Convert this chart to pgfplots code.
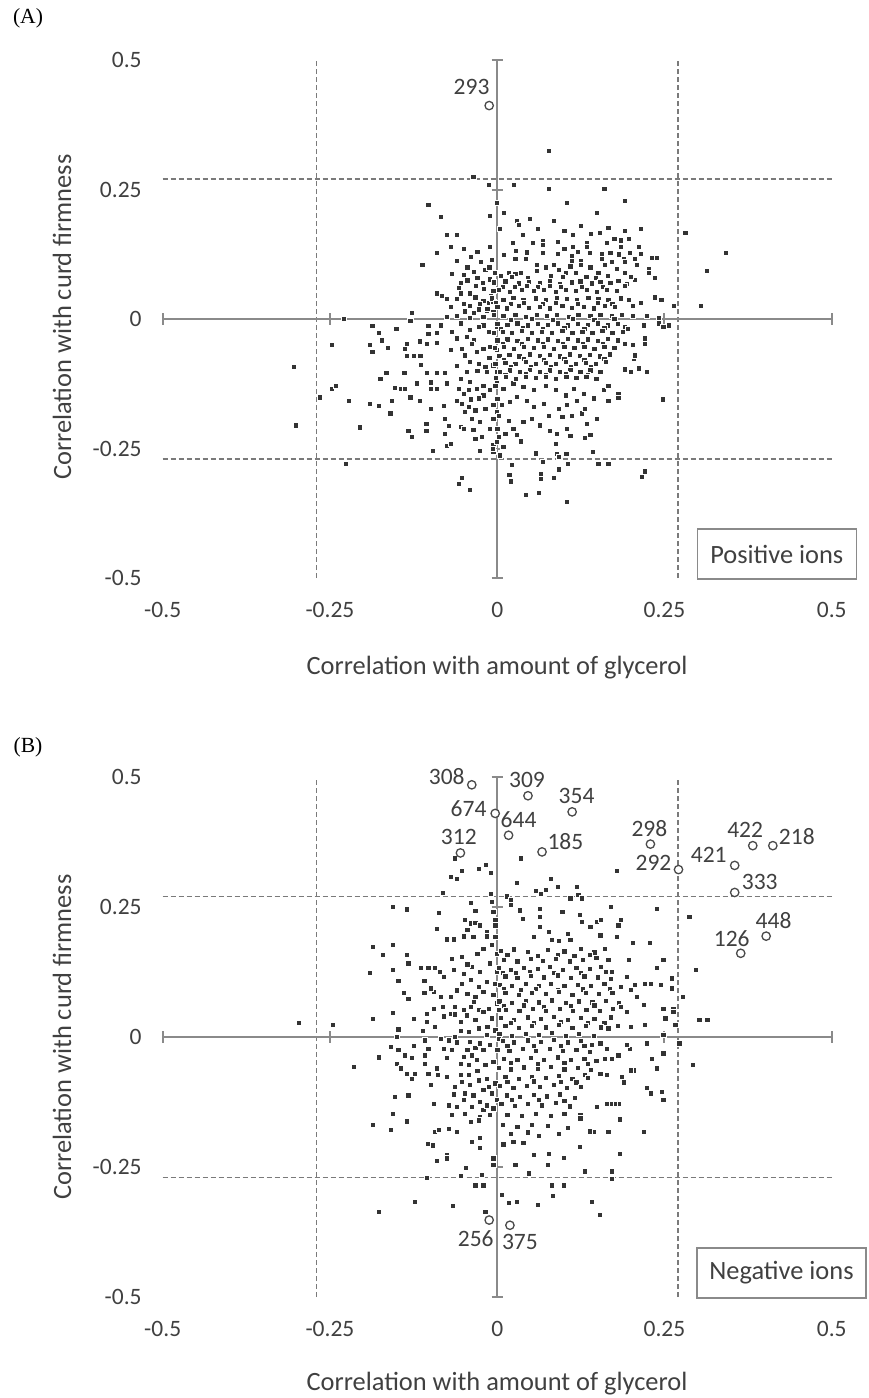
\documentclass[border=0pt]{standalone}
\usepackage{fontspec}
\setmainfont{Carlito}
\newfontfamily\seriffont{Liberation Serif}
\usepackage{pgfplots}
\pgfplotsset{compat=1.18}
\definecolor{axgray}{HTML}{8A8A8A}
\definecolor{dashgray}{HTML}{7A7A7A}
\definecolor{dotc}{HTML}{333333}
\definecolor{txt}{HTML}{404040}
\definecolor{circc}{HTML}{4A4A4A}
\tikzset{
  axl/.style={draw=axgray, line width=1pt},
  dsh/.style={draw=dashgray, line width=0.7pt, dash pattern=on 2.5pt off 1.5pt},
  lab/.style={font=\fontsize{11.75}{14}\selectfont, text=txt, inner sep=0pt},
  ttl/.style={font=\fontsize{13.2}{16}\selectfont, text=txt, inner sep=0pt},
}
\pgfplotsset{
  panel/.style={
    scale only axis, width=334.5pt,
    xmin=-0.5, xmax=0.5, ymin=-0.5, ymax=0.5,
    axis line style={draw=none}, tick style={draw=none}, major tick length=0pt,
    xtick={-0.5,-0.25,0,0.25,0.5}, xticklabels={-0.5,-0.25,0,0.25,0.5},
    ytick={-0.5,-0.25,0,0.25,0.5}, yticklabels={-0.5,-0.25,0,0.25,0.5},
    ticklabel style={font=\fontsize{11.75}{14}\selectfont, text=txt},
    xticklabel style={anchor=center, inner sep=0pt, yshift=-16pt},
    yticklabel style={anchor=east, inner sep=0pt, xshift=-10.35pt},
    clip=false, anchor=south west,
  },
  dots/.style={only marks, mark=square*, mark size=1.3pt,
    mark options={fill=dotc, draw=white, line width=0.2pt}},
  circs/.style={only marks, mark=*, mark size=2.1pt,
    mark options={fill=white, draw=circc, line width=0.65pt}},
}
\newcommand{\crossframe}{%
  \draw[dsh] (axis cs:-0.27,-0.5) -- (axis cs:-0.27,0.5);
  \draw[dsh] (axis cs:0.27,-0.5) -- (axis cs:0.27,0.5);
  \draw[dsh] (axis cs:-0.5,0.27) -- (axis cs:0.5,0.27);
  \draw[dsh] (axis cs:-0.5,-0.27) -- (axis cs:0.5,-0.27);
  \draw[axl] (axis cs:-0.5,0) -- (axis cs:0.5,0);
  \draw[axl] (axis cs:0,-0.5) -- (axis cs:0,0.5);
  \pgfplotsinvokeforeach{-0.5,-0.25,0.25,0.5}{
    \draw[axl] ([yshift=-2.8pt]axis cs:##1,0) -- ([yshift=2.8pt]axis cs:##1,0);
    \draw[axl] ([xshift=-2.8pt]axis cs:0,##1) -- ([xshift=2.8pt]axis cs:0,##1);
  }%
}
\begin{document}
\begin{tikzpicture}
\useasboundingbox (0,0) rectangle (434pt,-699pt);
% ---------------- Panel A ----------------
\begin{axis}[panel, height=259pt, at={(81.35pt,-289pt)}]
\crossframe
\addplot[dots] coordinates {
(-0.036,0.274) (-0.013,0.259) (-0.001,0.224) (-0.103,0.220) (-0.085,0.197) (-0.011,0.200) (-0.076,0.163) (-0.061,0.163) (-0.070,0.139) (-0.091,0.128) (-0.011,0.139) (-0.008,0.115) (-0.112,0.105) (-0.035,0.092) (-0.011,0.077) (-0.055,0.070) (-0.032,0.065) (-0.020,0.058) (-0.006,0.055) (-0.091,0.050) (-0.083,0.045) (-0.076,0.039) (-0.061,0.039) (-0.055,0.050) (-0.041,0.050) (-0.021,0.036) (-0.026,0.029) (-0.013,0.032) (-0.006,0.033) (-0.070,0.023) (-0.041,0.026) (-0.028,0.019) (-0.016,0.016) (-0.006,0.014) (-0.128,0.012) (-0.061,0.007) (-0.041,0.003) (-0.021,0.005) (-0.230,0.000) (-0.130,-0.003)
(-0.050,0.085) (-0.045,0.100) (-0.025,0.110) (-0.018,0.095) (-0.004,0.090) (-0.060,0.112) (-0.040,0.120) (-0.030,0.080) (-0.050,0.030) (-0.035,0.012) (-0.010,0.045) (-0.048,0.015) (-0.022,0.070)
(-0.015,0.020) (-0.033,0.042) (-0.058,0.060) (-0.045,0.075) (-0.068,0.088) (-0.012,0.100) (-0.030,0.130) (-0.050,0.135) (-0.075,0.005) (-0.085,-0.012) (-0.055,-0.008) (-0.035,-0.040) (-0.060,-0.090) (-0.070,-0.060) (-0.030,-0.100) (-0.055,-0.115) (-0.012,-0.075) (-0.040,-0.155)
(-0.187,-0.013) (-0.177,-0.026) (-0.151,-0.018) (-0.103,-0.013) (-0.247,-0.049) (-0.190,-0.049) (-0.187,-0.063) (-0.173,-0.041) (-0.164,-0.056) (-0.135,-0.047) (-0.138,-0.057) (-0.116,-0.043) (-0.105,-0.047) (-0.091,-0.045) (-0.103,-0.028) (-0.090,-0.026) (-0.135,-0.071) (-0.125,-0.071) (-0.115,-0.071)
(-0.304,-0.092) (-0.175,-0.115) (-0.166,-0.103) (-0.139,-0.103) (-0.114,-0.088) (-0.105,-0.103) (-0.091,-0.103) (-0.079,-0.103)
(-0.247,-0.135) (-0.242,-0.129) (-0.265,-0.151) (-0.222,-0.158) (-0.190,-0.163) (-0.177,-0.167) (-0.160,-0.182) (-0.158,-0.158) (-0.153,-0.133) (-0.144,-0.135) (-0.138,-0.135) (-0.130,-0.151) (-0.120,-0.124) (-0.116,-0.158) (-0.100,-0.122) (-0.100,-0.134) (-0.091,-0.134) (-0.075,-0.124)
(-0.301,-0.205) (-0.205,-0.209) (-0.133,-0.216) (-0.128,-0.227) (-0.106,-0.216) (-0.106,-0.202) (-0.100,-0.173) (-0.080,-0.168) (-0.079,-0.192) (-0.073,-0.206) (-0.055,-0.208) (-0.079,-0.221) (-0.075,-0.244) (-0.070,-0.240) (-0.096,-0.255) (-0.026,-0.255) (-0.006,-0.256) (-0.226,-0.279) (-0.053,-0.307) (-0.058,-0.318) (-0.041,-0.329)
(-0.060,-0.037) (-0.053,-0.057) (-0.046,-0.034) (-0.038,-0.047) (-0.031,-0.063) (-0.021,-0.057) (-0.011,-0.054) (-0.001,-0.060) (-0.048,-0.070) (-0.041,-0.082) (-0.028,-0.086) (-0.018,-0.092) (-0.006,-0.089) (-0.046,-0.102) (-0.016,-0.102) (-0.001,-0.102) (-0.058,-0.134) (-0.050,-0.144) (-0.043,-0.137) (-0.031,-0.134) (-0.021,-0.147) (-0.028,-0.153) (-0.060,-0.157) (-0.053,-0.163) (-0.043,-0.169) (-0.033,-0.176) (-0.018,-0.173) (-0.006,-0.166) (-0.001,-0.153) (-0.038,-0.192) (-0.026,-0.198) (-0.006,-0.192) (-0.033,-0.231) (-0.023,-0.227) (0.002,-0.227) (-0.006,-0.243) (-0.050,-0.211) (-0.036,-0.214) (-0.011,-0.211) (-0.021,-0.012) (-0.041,-0.021) (-0.013,-0.024) (-0.028,-0.015) (-0.001,-0.015) (-0.068,-0.024) (-0.041,-0.121) (-0.021,-0.128) (-0.001,-0.121) (-0.011,-0.137) (-0.048,-0.179) (-0.001,-0.179)
(0.077,0.325) (0.025,0.259) (0.077,0.251) (0.160,0.251) (0.104,0.224) (0.190,0.228) (0.010,0.205) (0.149,0.205) (0.049,0.193) (0.029,0.189) (0.032,0.182) (0.004,0.174) (0.166,0.177) (0.153,0.166) (0.215,0.174) (0.038,0.162) (0.113,0.162) (0.281,0.166) (0.023,0.147) (0.053,0.147) (0.068,0.151) (0.068,0.143) (0.113,0.139) (0.134,0.147) (0.134,0.139) (0.164,0.147) (0.175,0.155) (0.184,0.152) (0.196,0.155) (0.184,0.139) (0.211,0.139) (0.028,0.132) (0.044,0.129) (0.068,0.128) (0.138,0.128) (0.156,0.125) (0.169,0.128) (0.341,0.128) (0.027,0.116) (0.042,0.117) (0.111,0.122) (0.111,0.113) (0.125,0.113) (0.156,0.116) (0.189,0.116) (0.206,0.116) (0.231,0.119) (0.238,0.119) (0.313,0.093)
(0.090,0.150) (0.100,0.170) (0.125,0.180) (0.140,0.165) (0.190,0.170) (0.060,0.175) (0.085,0.190) (0.010,0.124) (0.090,0.126) (0.100,0.135) (0.120,0.130) (0.182,0.125) (0.198,0.128) (0.215,0.126)
(0.017,0.090) (0.027,0.087) (0.035,0.090) (0.059,0.105) (0.059,0.094) (0.072,0.100) (0.084,0.105) (0.092,0.095) (0.102,0.090) (0.109,0.102) (0.117,0.090) (0.125,0.105) (0.139,0.100) (0.151,0.090) (0.161,0.105) (0.171,0.110) (0.179,0.097) (0.191,0.110) (0.191,0.090) (0.209,0.105) (0.226,0.097) (0.226,0.089) (0.236,0.079) (0.206,0.076)
(0.005,0.084) (0.022,0.082) (0.045,0.080) (0.080,0.083) (0.098,0.081) (0.133,0.082) (0.147,0.080) (0.165,0.084) (0.200,0.082)
(0.236,0.042) (0.245,0.038) (0.264,0.026) (0.304,0.026) (0.203,0.026) (0.203,0.007) (0.224,0.007) (0.241,0.003)
(-0.005,0.071) (0.012,0.073) (0.032,0.069) (0.047,0.072) (0.064,0.070) (0.079,0.074) (0.094,0.068) (0.111,0.071) (0.124,0.073) (0.141,0.069) (0.154,0.072) (0.169,0.070) (0.181,0.074) (0.194,0.068)
(0.008,0.063) (0.026,0.062) (0.044,0.064) (0.060,0.062) (0.078,0.064) (0.095,0.062) (0.126,0.063) (0.158,0.062) (0.190,0.064)
(0.002,0.056) (0.019,0.053) (0.037,0.057) (0.054,0.054) (0.069,0.056) (0.087,0.053) (0.102,0.057) (0.117,0.054) (0.134,0.056) (0.149,0.053) (0.164,0.057) (0.179,0.055)
(-0.008,0.040) (0.009,0.038) (0.024,0.041) (0.039,0.038) (0.057,0.040) (0.072,0.037) (0.089,0.041) (0.104,0.039) (0.119,0.037) (0.136,0.041) (0.151,0.039) (0.166,0.038) (0.184,0.040) (0.196,0.037)
(-0.002,0.031) (0.020,0.030) (0.040,0.032) (0.068,0.030) (0.088,0.032) (0.120,0.030) (0.150,0.032) (0.172,0.030) (0.215,0.031)
(0.000,0.024) (0.014,0.021) (0.032,0.025) (0.047,0.022) (0.064,0.024) (0.079,0.021) (0.097,0.025) (0.111,0.022) (0.129,0.024) (0.144,0.021) (0.161,0.025) (0.176,0.023)
(-0.005,0.008) (0.009,0.006) (0.027,0.009) (0.042,0.005) (0.059,0.008) (0.074,0.006) (0.089,0.009) (0.107,0.005) (0.121,0.008) (0.139,0.006) (0.154,0.009) (0.171,0.006) (0.186,0.008)
(0.020,-0.001) (0.052,0.001) (0.083,-0.001) (0.113,0.001) (0.145,-0.001) (0.175,0.001)
(0.247,-0.155) (0.224,-0.102) (0.211,-0.095) (0.199,-0.102) (0.190,-0.097) (0.204,-0.076) (0.206,-0.070) (0.221,-0.047) (0.221,-0.037) (0.203,-0.050) (0.191,-0.015) (0.219,-0.012) (0.241,-0.008) (0.248,-0.015) (0.256,-0.012)
(0.181,-0.144) (0.181,-0.152) (0.166,-0.158) (0.149,-0.193) (0.143,-0.256) (0.166,-0.279) (0.151,-0.279) (0.139,-0.224) (0.131,-0.229) (0.221,-0.294) (0.216,-0.305)
(0.105,-0.279) (0.092,-0.290) (0.084,-0.307) (0.068,-0.276) (0.065,-0.298) (0.065,-0.309) (0.057,-0.259) (0.043,-0.339) (0.062,-0.336) (0.104,-0.352) (0.022,-0.282) (0.018,-0.301) (0.020,-0.313) (0.035,-0.236) (0.089,-0.260) (0.103,-0.260) (0.092,-0.266)
(0.004,-0.263) (0.009,-0.247) (-0.001,-0.237) (-0.007,-0.250)
(0.134,-0.202) (0.111,-0.186) (0.097,-0.189) (0.126,-0.182) (0.104,-0.211) (0.089,-0.221) (0.109,-0.226) (0.087,-0.240)
(0.000,-0.154) (0.007,-0.166) (0.019,-0.160) (0.029,-0.150) (0.044,-0.157) (0.054,-0.170) (0.069,-0.163) (0.077,-0.186) (0.092,-0.173) (0.104,-0.166) (0.119,-0.157) (0.131,-0.173) (0.002,-0.186) (0.017,-0.196) (0.024,-0.212) (0.039,-0.199) (0.052,-0.192) (0.064,-0.205) (0.079,-0.215) (0.000,-0.211) (0.012,-0.221) (0.029,-0.224) (-0.003,-0.128) (0.009,-0.134) (0.024,-0.124) (0.039,-0.131) (0.054,-0.137) (0.072,-0.128) (0.087,-0.137) (0.102,-0.147) (0.114,-0.134) (0.129,-0.144) (0.144,-0.153) (0.159,-0.137) (0.166,-0.128)
(0.000,-0.009) (0.015,-0.011) (0.030,-0.008) (0.045,-0.012) (0.060,-0.009) (0.075,-0.011) (0.090,-0.008) (0.105,-0.012) (0.120,-0.009) (0.135,-0.011) (0.150,-0.008) (0.165,-0.012) (0.180,-0.009)
(0.005,-0.018) (0.038,-0.017) (0.068,-0.018) (0.100,-0.017) (0.130,-0.018) (0.160,-0.017) (0.195,-0.018)
(-0.005,-0.026) (0.008,-0.024) (0.022,-0.027) (0.037,-0.023) (0.052,-0.026) (0.067,-0.024) (0.082,-0.027) (0.097,-0.023) (0.112,-0.026) (0.127,-0.024) (0.142,-0.027) (0.157,-0.023) (0.172,-0.026) (0.187,-0.024)
(0.000,-0.041) (0.015,-0.039) (0.030,-0.042) (0.045,-0.038) (0.060,-0.041) (0.075,-0.039) (0.090,-0.042) (0.105,-0.038) (0.120,-0.041) (0.135,-0.039) (0.150,-0.042) (0.165,-0.038) (0.180,-0.041)
(0.008,-0.048) (0.037,-0.047) (0.068,-0.048) (0.098,-0.047) (0.128,-0.048) (0.158,-0.047) (0.190,-0.048)
(-0.004,-0.056) (0.010,-0.054) (0.025,-0.057) (0.040,-0.053) (0.055,-0.056) (0.070,-0.054) (0.085,-0.057) (0.100,-0.053) (0.115,-0.056) (0.130,-0.054) (0.145,-0.057) (0.160,-0.053) (0.175,-0.056)
(0.003,-0.071) (0.018,-0.069) (0.033,-0.072) (0.048,-0.068) (0.063,-0.071) (0.078,-0.069) (0.093,-0.072) (0.108,-0.068) (0.123,-0.071) (0.138,-0.069) (0.153,-0.072) (0.168,-0.068)
(0.010,-0.078) (0.040,-0.077) (0.070,-0.078) (0.100,-0.077) (0.130,-0.078) (0.160,-0.077)
(-0.003,-0.086) (0.012,-0.084) (0.027,-0.087) (0.042,-0.083) (0.057,-0.086) (0.072,-0.084) (0.087,-0.087) (0.102,-0.083) (0.117,-0.086) (0.132,-0.084) (0.147,-0.087) (0.162,-0.083)
(0.020,-0.093) (0.050,-0.092) (0.080,-0.093) (0.110,-0.092) (0.140,-0.093)
(0.004,-0.101) (0.019,-0.099) (0.034,-0.102) (0.049,-0.098) (0.064,-0.101) (0.079,-0.099) (0.094,-0.102) (0.109,-0.098) (0.124,-0.101) (0.139,-0.099) (0.154,-0.102)
(0.012,-0.107) (0.042,-0.106) (0.072,-0.107) (0.102,-0.106) (0.135,-0.107)
(-0.002,-0.114) (0.013,-0.112) (0.028,-0.115) (0.043,-0.111) (0.058,-0.114) (0.073,-0.112) (0.088,-0.115) (0.103,-0.111) (0.118,-0.114) (0.133,-0.112) (0.148,-0.115)
};
\addplot[circs] coordinates {(-0.012,0.412)};
\node[lab] at ([xshift=-8.8pt,yshift=9.2pt]axis cs:-0.012,0.412) {293};
\end{axis}
% ---------------- Panel B ----------------
\begin{axis}[panel, height=260pt, at={(81.35pt,-648.5pt)}]
\crossframe
\addplot[dots] coordinates {
(-0.063,0.344) (-0.070,0.308) (-0.061,0.304) (-0.053,0.320) (-0.028,0.324) (-0.017,0.331) (-0.010,0.316) (-0.081,0.278) (-0.010,0.275) (-0.156,0.251) (-0.135,0.246) (-0.040,0.258) (-0.033,0.243) (-0.008,0.260) (-0.006,0.241) (-0.088,0.239)
(-0.049,0.226) (-0.040,0.219) (-0.033,0.220) (-0.026,0.215) (-0.045,0.206) (-0.016,0.203) (-0.003,0.226) (-0.003,0.215) (-0.090,0.208) (-0.075,0.188) (-0.065,0.188) (-0.050,0.194) (-0.036,0.193) (-0.016,0.194) (-0.003,0.193)
(-0.186,0.174) (-0.156,0.177) (-0.171,0.158) (-0.135,0.158) (-0.133,0.142) (-0.190,0.124) (-0.156,0.130) (-0.148,0.108) (-0.140,0.085) (-0.133,0.074) (-0.109,0.108) (-0.109,0.085) (-0.114,0.134) (-0.103,0.134) (-0.093,0.134) (-0.086,0.126) (-0.080,0.116) (-0.095,0.087) (-0.100,0.094) (-0.085,0.078) (-0.081,0.058) (-0.095,0.055) (-0.105,0.045) (-0.070,0.078) (-0.063,0.058) (-0.050,0.052) (-0.040,0.058) (-0.028,0.052) (-0.013,0.055)
(-0.068,0.151) (-0.053,0.154) (-0.021,0.170) (-0.008,0.177) (-0.001,0.161) (-0.065,0.129) (-0.050,0.122) (-0.038,0.135) (-0.026,0.126) (-0.011,0.142) (-0.001,0.126) (-0.053,0.103) (-0.040,0.110) (-0.028,0.097) (-0.016,0.106) (-0.003,0.103) (-0.060,0.090) (-0.045,0.084) (-0.033,0.078) (-0.021,0.087) (-0.006,0.081) (-0.001,0.065)
(-0.015,0.020) (-0.035,0.068) (-0.055,0.030) (-0.070,0.045) (-0.045,0.140) (-0.030,0.160) (-0.060,-0.010) (-0.075,-0.040) (-0.045,-0.025) (-0.065,-0.110) (-0.030,-0.065) (-0.013,-0.095)
(-0.297,0.028) (-0.246,0.023) (-0.214,-0.057) (-0.186,0.035) (-0.156,0.047) (-0.125,0.035) (-0.105,0.030) (-0.093,0.020) (-0.080,0.040) (-0.063,0.044)
(-0.148,0.015) (-0.150,0.000) (-0.111,0.012) (-0.108,-0.006) (-0.085,-0.003) (-0.073,-0.006) (-0.064,0.000) (-0.055,0.012)
(-0.177,-0.039) (-0.159,-0.019) (-0.148,-0.025) (-0.138,-0.035) (-0.128,-0.040) (-0.125,-0.017) (-0.108,-0.035) (-0.108,-0.051) (-0.103,-0.022)
(-0.150,-0.051) (-0.144,-0.060) (-0.135,-0.070) (-0.123,-0.070) (-0.128,-0.080) (-0.103,-0.070) (-0.099,-0.092) (-0.090,-0.060) (-0.089,-0.073) (-0.075,-0.076) (-0.063,-0.095) (-0.055,-0.073) (-0.043,-0.073) (-0.080,-0.022) (-0.068,-0.025) (-0.050,-0.038) (-0.038,-0.035) (-0.033,-0.021) (-0.021,-0.025)
(-0.153,-0.115) (-0.133,-0.112) (-0.156,-0.147) (-0.135,-0.162) (-0.186,-0.169) (-0.159,-0.178) (-0.095,-0.128) (-0.073,-0.131) (-0.060,-0.134) (-0.050,-0.121) (-0.068,-0.150) (-0.048,-0.147) (-0.038,-0.134) (-0.026,-0.124) (-0.021,-0.140) (-0.026,-0.153) (-0.093,-0.182) (-0.088,-0.179) (-0.073,-0.176) (-0.060,-0.182) (-0.040,-0.163) (-0.028,-0.160) (-0.011,-0.150) (-0.103,-0.205) (-0.096,-0.208) (-0.075,-0.227) (-0.076,-0.233) (-0.090,-0.238) (-0.038,-0.201) (-0.026,-0.194) (-0.026,-0.213) (-0.047,-0.251)
(-0.105,-0.271) (-0.054,-0.267) (-0.033,-0.285) (-0.021,-0.285) (-0.023,-0.265) (-0.006,-0.246) (-0.006,-0.233) (-0.177,-0.336) (-0.123,-0.317) (-0.066,-0.324) (-0.018,-0.336)
(-0.046,0.042) (-0.033,0.033) (-0.021,0.049) (-0.008,0.036) (0.002,0.052) (-0.043,0.010) (-0.028,0.017) (-0.016,0.004) (-0.003,0.013) (-0.041,-0.009) (-0.026,-0.012) (-0.011,-0.015) (0.002,-0.003) (-0.055,-0.051) (-0.043,-0.054) (-0.031,-0.044) (-0.018,-0.054) (-0.006,-0.048) (0.002,-0.060) (-0.053,-0.086) (-0.041,-0.092) (-0.028,-0.083) (-0.016,-0.080) (-0.003,-0.089) (-0.048,-0.108) (-0.036,-0.112) (-0.021,-0.102) (-0.008,-0.108) (-0.001,-0.121) (-0.016,-0.131) (-0.006,-0.137)
(0.035,0.344) (0.179,0.320) (0.029,0.297) (0.057,0.281) (0.065,0.276) (0.072,0.284) (0.080,0.305) (0.090,0.289) (0.109,0.267) (0.119,0.289) (0.121,0.273) (0.126,0.267) (0.014,0.271) (0.020,0.263)
(0.170,0.251) (0.238,0.247) (0.287,0.231)
(0.020,0.254) (0.034,0.244) (0.064,0.247) (0.097,0.241) (0.123,0.235) (0.126,0.222) (0.139,0.212) (0.149,0.222) (0.155,0.226) (0.184,0.226) (0.181,0.215) (0.154,0.196) (0.179,0.193) (0.203,0.181) (0.228,0.181) (0.161,0.170) (0.166,0.149) (0.196,0.149) (0.248,0.149) (0.238,0.134) (0.038,0.228) (0.064,0.231) (0.064,0.212) (0.054,0.193) (0.077,0.203) (0.082,0.187) (0.092,0.185) (0.105,0.199) (0.109,0.187)
(0.297,0.130) (0.277,0.078) (0.261,0.113) (0.261,0.094) (0.244,0.100) (0.229,0.103) (0.221,0.103) (0.206,0.100) (0.194,0.116) (0.171,0.126) (0.209,0.078) (0.219,0.062) (0.248,0.055) (0.263,0.055)
(0.005,0.166) (0.025,0.169) (0.045,0.164) (0.075,0.168) (0.100,0.165) (0.125,0.170) (0.145,0.163)
(0.015,0.158) (0.060,0.157) (0.090,0.159) (0.115,0.157) (0.138,0.158)
(0.010,0.149) (0.030,0.146) (0.050,0.150) (0.068,0.147) (0.088,0.151) (0.108,0.146) (0.128,0.149) (0.148,0.152)
(0.002,0.133) (0.020,0.130) (0.040,0.134) (0.060,0.131) (0.078,0.135) (0.098,0.130) (0.118,0.133) (0.138,0.131) (0.155,0.135)
(0.008,0.124) (0.028,0.123) (0.048,0.125) (0.085,0.124) (0.125,0.123) (0.162,0.125)
(0.012,0.117) (0.030,0.114) (0.050,0.118) (0.070,0.115) (0.090,0.119) (0.110,0.114) (0.130,0.117) (0.150,0.115) (0.170,0.112)
(0.004,0.101) (0.022,0.098) (0.042,0.102) (0.062,0.099) (0.080,0.103) (0.100,0.098) (0.120,0.101) (0.140,0.099) (0.160,0.103) (0.185,0.097)
(0.010,0.092) (0.035,0.091) (0.058,0.093) (0.090,0.091) (0.128,0.092) (0.168,0.093) (0.200,0.091)
(0.012,0.085) (0.032,0.082) (0.052,0.086) (0.072,0.083) (0.092,0.087) (0.112,0.082) (0.132,0.085) (0.152,0.083) (0.172,0.086)
(0.003,0.069) (0.022,0.066) (0.042,0.070) (0.062,0.067) (0.082,0.071) (0.102,0.066) (0.122,0.069) (0.142,0.067) (0.162,0.070) (0.182,0.066)
(0.010,0.060) (0.040,0.061) (0.070,0.059) (0.110,0.060) (0.145,0.061) (0.185,0.059)
(0.013,0.053) (0.033,0.050) (0.053,0.054) (0.073,0.051) (0.093,0.055) (0.113,0.050) (0.133,0.053) (0.153,0.051) (0.173,0.054) (0.193,0.049)
(0.005,0.037) (0.025,0.034) (0.045,0.038) (0.065,0.035) (0.085,0.039) (0.105,0.034) (0.125,0.037) (0.145,0.035) (0.170,0.038)
(0.020,0.028) (0.055,0.027) (0.095,0.029) (0.135,0.027) (0.160,0.028)
(0.012,0.021) (0.032,0.018) (0.052,0.022) (0.072,0.019) (0.092,0.023) (0.112,0.018) (0.132,0.021) (0.155,0.019) (0.180,0.022)
(0.003,0.006) (0.022,0.003) (0.042,0.007) (0.062,0.004) (0.082,0.008) (0.102,0.003) (0.122,0.006)
(0.302,0.033) (0.314,0.033) (0.292,-0.054) (0.272,-0.012) (0.248,-0.031) (0.248,0.004) (0.251,0.036) (0.263,0.049) (0.266,0.023)
(0.221,0.023) (0.223,-0.012) (0.231,-0.041) (0.238,-0.060) (0.204,-0.064) (0.198,-0.022) (0.194,-0.015) (0.199,0.020) (0.224,-0.097) (0.229,-0.108) (0.246,-0.105) (0.248,-0.121) (0.219,-0.182) (0.183,-0.224) (0.183,-0.158) (0.181,-0.128) (0.176,-0.128) (0.169,-0.128) (0.164,-0.128) (0.149,-0.134) (0.166,-0.182) (0.144,-0.182) (0.138,-0.181) (0.123,-0.211) (0.099,-0.232) (0.077,-0.224) (0.054,-0.227) (0.075,-0.246) (0.047,-0.262) (0.039,-0.203) (0.024,-0.201) (0.009,-0.206) (0.027,-0.246) (0.131,-0.258) (0.171,-0.258) (0.171,-0.273) (0.081,-0.285) (0.083,-0.305) (0.060,-0.323) (0.029,-0.317) (0.017,-0.318) (0.007,-0.304) (0.141,-0.317) (0.153,-0.342) (0.099,-0.285) (0.124,-0.150) (0.124,-0.156) (0.189,-0.087) (0.186,-0.076) (0.164,-0.073) (0.154,-0.070) (0.131,-0.073) (0.171,-0.041) (0.161,-0.041) (0.164,-0.022) (0.181,-0.035) (0.166,0.017) (0.199,-0.064) (0.154,-0.012) (0.141,-0.015) (0.144,0.003)
(0.008,-0.007) (0.025,-0.010) (0.045,-0.006) (0.065,-0.009) (0.085,-0.005) (0.105,-0.010) (0.125,-0.007)
(0.015,-0.016) (0.055,-0.017) (0.095,-0.016) (0.130,-0.017)
(0.000,-0.024) (0.018,-0.027) (0.038,-0.023) (0.058,-0.026) (0.078,-0.022) (0.098,-0.027) (0.118,-0.024) (0.138,-0.028)
(0.010,-0.041) (0.030,-0.044) (0.050,-0.040) (0.070,-0.043) (0.090,-0.039) (0.110,-0.044) (0.130,-0.041) (0.148,-0.045)
(0.020,-0.050) (0.060,-0.051) (0.100,-0.050) (0.135,-0.052)
(0.002,-0.059) (0.020,-0.062) (0.040,-0.058) (0.060,-0.061) (0.080,-0.057) (0.100,-0.062) (0.120,-0.059) (0.140,-0.063)
(0.012,-0.077) (0.032,-0.080) (0.052,-0.076) (0.072,-0.079) (0.092,-0.075) (0.112,-0.080) (0.135,-0.078)
(0.015,-0.086) (0.055,-0.085) (0.095,-0.086) (0.118,-0.087)
(0.004,-0.094) (0.024,-0.097) (0.044,-0.093) (0.064,-0.096) (0.084,-0.092) (0.104,-0.098) (0.125,-0.095)
(0.014,-0.112) (0.034,-0.115) (0.054,-0.111) (0.074,-0.114) (0.094,-0.110) (0.116,-0.116)
(0.022,-0.121) (0.062,-0.120) (0.100,-0.122)
(0.006,-0.129) (0.026,-0.132) (0.046,-0.128) (0.066,-0.131) (0.088,-0.127) (0.108,-0.133)
(0.015,-0.149) (0.037,-0.152) (0.058,-0.148) (0.080,-0.151) (0.100,-0.147)
(0.008,-0.169) (0.030,-0.172) (0.052,-0.168) (0.075,-0.171) (0.105,-0.175)
(0.020,-0.186) (0.045,-0.183) (0.062,-0.190) (0.092,-0.186)
};
\addplot[circs] coordinates {
(-0.038,0.485) (-0.003,0.430) (-0.055,0.354) (0.046,0.464) (0.112,0.433) (0.017,0.388) (0.067,0.356) (0.229,0.371) (0.271,0.322) (0.355,0.330) (0.382,0.368) (0.412,0.368) (0.355,0.278) (0.402,0.194) (0.364,0.161) (-0.012,-0.352) (0.019,-0.362)
};
\node[lab] at ([xshift=-12.5pt,yshift=4.2pt]axis cs:-0.038,0.485) {308};
\node[lab] at ([xshift=-13.3pt,yshift=2.5pt]axis cs:-0.003,0.430) {674};
\node[lab] at ([xshift=-0.8pt,yshift=8pt]axis cs:-0.055,0.354) {312};
\node[lab] at ([xshift=-0.5pt,yshift=7.8pt]axis cs:0.046,0.464) {309};
\node[lab] at ([xshift=2.2pt,yshift=7.8pt]axis cs:0.112,0.433) {354};
\node[lab] at ([xshift=5pt,yshift=7.7pt]axis cs:0.017,0.388) {644};
\node[lab] at ([xshift=11.7pt,yshift=5pt]axis cs:0.067,0.356) {185};
\node[lab] at ([xshift=-0.5pt,yshift=7.8pt]axis cs:0.229,0.371) {298};
\node[lab] at ([xshift=-12.5pt,yshift=3.3pt]axis cs:0.271,0.322) {292};
\node[lab] at ([xshift=-13pt,yshift=5.2pt]axis cs:0.355,0.330) {421};
\node[lab] at ([xshift=-3.8pt,yshift=7.8pt]axis cs:0.382,0.368) {422};
\node[lab] at ([xshift=12pt,yshift=4.8pt]axis cs:0.412,0.368) {218};
\node[lab] at ([xshift=12.5pt,yshift=5.3pt]axis cs:0.355,0.278) {333};
\node[lab] at ([xshift=3.7pt,yshift=8pt]axis cs:0.402,0.194) {448};
\node[lab] at ([xshift=-4.5pt,yshift=7.5pt]axis cs:0.364,0.161) {126};
\node[lab] at ([xshift=-6.7pt,yshift=-9.2pt]axis cs:-0.012,-0.352) {256};
\node[lab] at ([xshift=5pt,yshift=-8.3pt]axis cs:0.019,-0.362) {375};
\end{axis}
% ---------------- Titles and boxes ----------------
\node[font=\seriffont\fontsize{10.8}{13}\selectfont, inner sep=0pt] at (14pt,-9pt) {(A)};
\node[font=\seriffont\fontsize{10.8}{13}\selectfont, inner sep=0pt] at (14pt,-373.5pt) {(B)};
\node[ttl, rotate=90] at (31pt,-158.5pt) {Correlation with curd firmness};
\node[ttl, rotate=90] at (31pt,-518.5pt) {Correlation with curd firmness};
\node[ttl] at (248.5pt,-334pt) {Correlation with amount of glycerol};
\node[ttl] at (248.5pt,-692pt) {Correlation with amount of glycerol};
\node[ttl, draw=axgray, line width=0.7pt, minimum width=79.5pt, minimum height=25pt] at (388.4pt,-277pt) {Positive ions};
\node[ttl, draw=axgray, line width=0.7pt, minimum width=84.5pt, minimum height=25pt] at (390.75pt,-636.5pt) {Negative ions};
\end{tikzpicture}
\end{document}
